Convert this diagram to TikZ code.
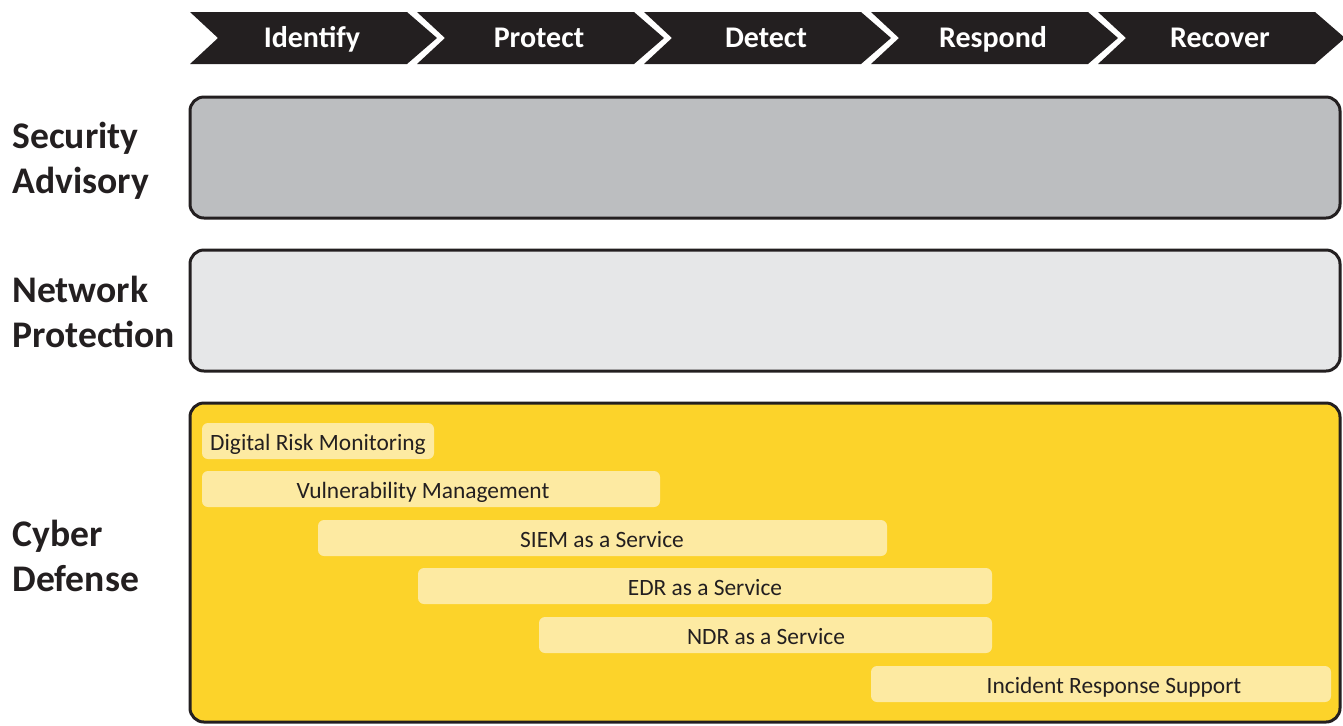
\documentclass[tikz,border=0pt]{standalone}
\usepackage{fontspec}
\setmainfont{Carlito}
\usepackage{xcolor}
\usetikzlibrary{positioning}
\definecolor{inkdark}{HTML}{231F20}
\definecolor{advgray}{HTML}{BCBEC0}
\definecolor{netgray}{HTML}{E6E7E8}
\definecolor{cyberyellow}{HTML}{FCD32A}
\definecolor{paleyellow}{HTML}{FDEAA2}

\begin{document}
\begin{tikzpicture}[x=0.5pt, y=-0.5pt,
  rowbox/.style={draw=inkdark, line width=1.5pt, rounded corners=7pt},
  rowlabel/.style={anchor=west, align=left, inner sep=0pt, text=inkdark,
    font=\fontsize{18.8}{22.5}\selectfont\bfseries},
  phase/.style={anchor=base, inner sep=0pt, text=white,
    font=\fontsize{15}{17}\selectfont\bfseries},
  service/.style={anchor=base, inner sep=0pt, text=inkdark,
    font=\fontsize{11.7}{14}\selectfont}]
\useasboundingbox (0,0) rectangle (1343,725);

% phases
\foreach \name [count=\i from 0] in {Identify,Protect,Detect,Respond,Recover} {
  \pgfmathsetmacro{\xl}{190+227*\i}
  \fill[inkdark] (\xl,12) -- ++(217,0) -- ++(30,26) -- ++(-30,26) -- ++(-217,0) -- ++(28,-26) -- cycle;
  \node[phase] (ph\i) at (\xl+122,47) {\name};
}

% rows
\draw[rowbox, fill=advgray] (190,97) rectangle (1340,218);
\draw[rowbox, fill=netgray] (190,250) rectangle (1340,371);
\draw[rowbox, fill=cyberyellow] (190,403) rectangle (1340,722);

\node[rowlabel] (advlbl) at (12,161) {Security\\Advisory};
\node[rowlabel] (netlbl) at (12,312) {Network\\Protection};
\node[rowlabel] (cyblbl) at (12,556) {Cyber\\Defense};

% services
\foreach \xa/\xb/\ya/\xt/\txt [count=\k] in {
    202/434/423/318/Digital Risk Monitoring,
    202/660/471/423/Vulnerability Management,
    318/887/520/602/SIEM as a Service,
    418/992/568/705/EDR as a Service,
    539/992/617/766/NDR as a Service,
    871/1331/666/1114/Incident Response Support} {
  \fill[paleyellow, rounded corners=3pt] (\xa,\ya) rectangle (\xb,\ya+36);
  \node[service] (svc\k) at (\xt,\ya+27) {\txt};
}
\end{tikzpicture}
\end{document}
